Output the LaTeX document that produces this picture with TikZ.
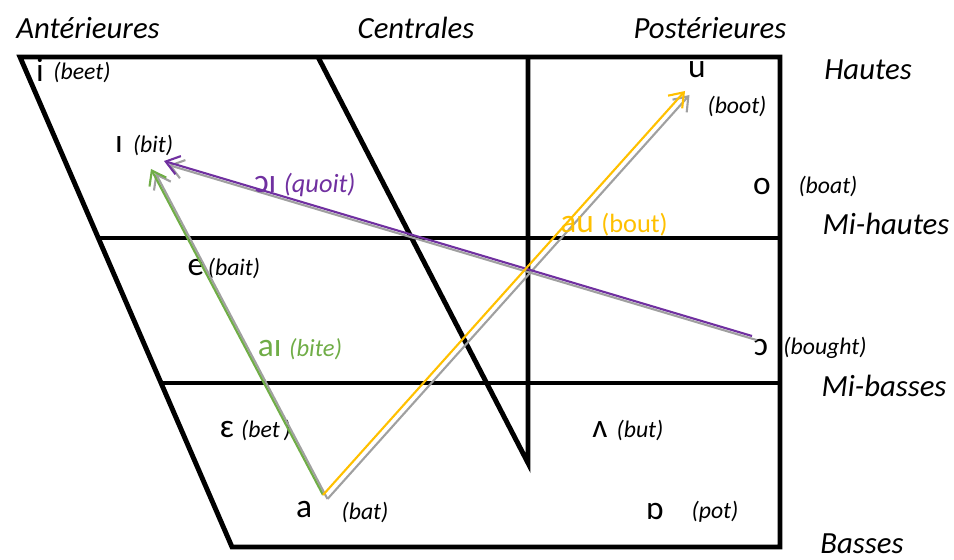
\documentclass[tikz,border=0pt]{standalone}
\usepackage{fontspec}
\setmainfont{Carlito}
\usetikzlibrary{arrows.meta}
\definecolor{glidePurple}{HTML}{7030A0}
\definecolor{glideGreen}{HTML}{70AD47}
\definecolor{glideOrange}{HTML}{FFC000}
\definecolor{glideGray}{HTML}{A0A0A0}

\begin{document}
\begin{tikzpicture}[
        x=0.02cm, y=-0.02cm,
        grid/.style={line width=2.8pt},
        axis/.style={font=\fontsize{17.5}{19}\selectfont\itshape},
        vowel/.style={font=\fontsize{19}{21}\selectfont, inner sep=0pt},
        word/.style={font=\fontsize{13.5}{15}\selectfont\itshape, inner sep=0pt},
        glide/.style={-{Straight Barb[length=2.6mm, width=3.8mm]}, line width=1.2pt},
        shade/.style={glide, draw=glideGray, transform canvas={xshift=0.09cm, yshift=-0.08cm}}
    ]
        \useasboundingbox (0,0) rectangle (954,560);

        % trapeze
        \draw[grid] (20,57) -- (780,57) -- (780,547) -- (232,547) -- cycle;
        \draw[grid] (318,57) -- (528,463) -- (528,57);
        \draw[grid] (98,238) -- (780,238);
        \draw[grid] (161,383) -- (780,383);

        % column and row names
        \node[axis] (ant)  at (88,28)   {Antérieures};
        \node[axis] (cen)  at (416,28)  {Centrales};
        \node[axis] (post) at (710,28)  {Postérieures};
        \node[axis] (hau)  at (868,70)  {Hautes};
        \node[axis] (mih)  at (886,224) {Mi-hautes};
        \node[axis] (mib)  at (884,386) {Mi-basses};
        \node[axis] (bas)  at (862,544) {Basses};

        % vowels
        \node[vowel] (i)   at (40,70)   {i};
        \node[word]  (beet) at (82,72)  {(beet)};
        \node[vowel] (ih)  at (119,145) {ɪ};
        \node[word]  (bit) at (153,145) {(bit)};
        \node[vowel] (e)   at (196,268) {e};
        \node[word]  (bait) at (234,268) {(bait)};
        \node[vowel] (eh)  at (227,430) {ɛ};
        \node[word]  (bet) at (266,430) {(bet\,)};
        \node[vowel] (a)   at (304,510) {a};
        \node[word]  (bat) at (365,512) {(bat)};
        \node[vowel] (u)   at (697,70)  {u};
        \node[word]  (boot) at (737,106) {(boot)};
        \node[vowel] (o)   at (762,187) {o};
        \node[word]  (boat) at (828,186) {(boat)};
        \node[vowel] (oh)  at (761,348) {ɔ};
        \node[word]  (bought) at (825,348) {(bought)};
        \node[vowel] (uh)  at (600,430) {ʌ};
        \node[word]  (but) at (640,430) {(but)};
        \node[vowel] (ah)  at (655,512) {ɒ};
        \node[word]  (pot) at (715,512) {(pot)};

        % glide ends
        \coordinate (a-start)  at (323,495);
        \coordinate (oh-start) at (752,336);
        \coordinate (ih-end1)  at (151,169);
        \coordinate (ih-end2)  at (164,161);
        \coordinate (u-end)    at (685,91);

        \draw[shade] (a-start) -- (ih-end1);
        \draw[shade] (oh-start) -- (ih-end2);
        \draw[shade] (a-start) -- (u-end);
        \draw[glide, glideGreen]  (a-start) -- (ih-end1);
        \draw[glide, glidePurple] (oh-start) -- (ih-end2);
        \draw[glide, glideOrange] (a-start) -- (u-end);

        % diphthongs
        \node[vowel, glidePurple] (oi) at (305,185) {ɔɪ \fontsize{15}{17}\selectfont\itshape(quoit)};
        \node[vowel, glideGreen]  (ai) at (300,349) {aɪ \fontsize{14}{16}\selectfont\itshape(bite)};
        \node[vowel, glideOrange] (au) at (614,225) {au \fontsize{15}{17}\selectfont(bout)};
    \end{tikzpicture}
\end{document}
